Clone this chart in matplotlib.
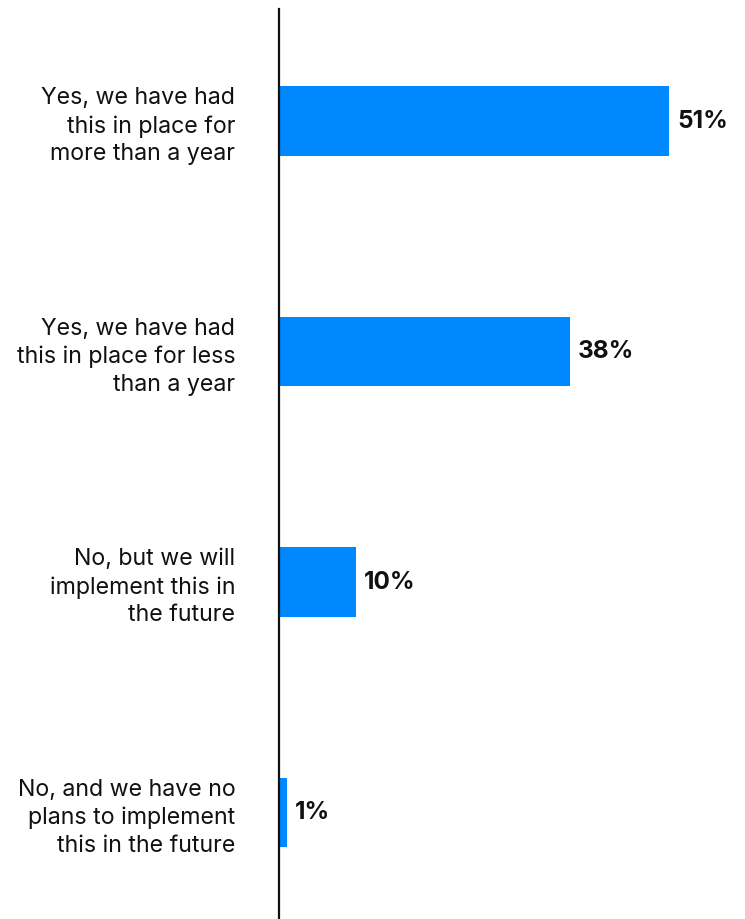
import matplotlib
matplotlib.use("Agg")
import matplotlib.pyplot as plt

categories = [
    "Yes, we have had\nthis in place for\nmore than a year",
    "Yes, we have had\nthis in place for less\nthan a year",
    "No, but we will\nimplement this in\nthe future",
    "No, and we have no\nplans to implement\nthis in the future",
]
values = [51, 38, 10, 1]
value_labels = ["51%", "38%", "10%", "1%"]

plt.rcParams['font.family'] = ['Inter', 'DejaVu Sans']

fig = plt.figure(figsize=(7.45, 9.19), dpi=100)
ax = fig.add_axes([279 / 745, 0, 1 - 279 / 745, 1 - 9 / 919])

ypos = list(range(len(values)))
ax.barh(ypos, values, height=0.3, color="#0088ff", zorder=1)

for y, v, lab in zip(ypos, values, value_labels):
    ax.text(v + 1.1, y, lab, ha="left", va="center", fontsize=17.5,
            fontweight="bold", color="#111111")

ax.set_xlim(0, 60.9)
ax.set_ylim(3.462, -0.486)
ax.set_yticks(ypos)
ax.set_yticklabels(categories, fontsize=16.7, color="#111111", linespacing=1.32)
ax.tick_params(axis="y", length=0, pad=31.5)
ax.set_xticks([])

for s in ["top", "right", "bottom"]:
    ax.spines[s].set_visible(False)
ax.spines["left"].set_linewidth(1.6)
ax.spines["left"].set_color("#111111")
ax.spines["left"].set_zorder(3)

plt.savefig("out.png", dpi=100)
